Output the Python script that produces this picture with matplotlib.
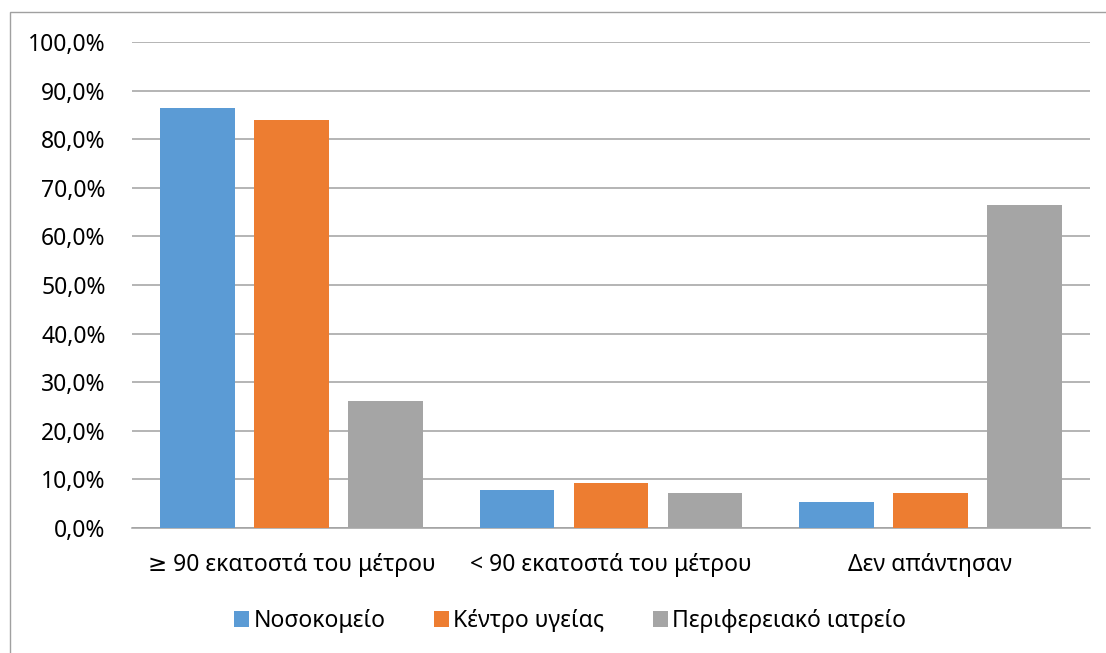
import matplotlib
matplotlib.use("Agg")
import matplotlib.pyplot as plt
from matplotlib.patches import Rectangle
from matplotlib.ticker import FuncFormatter
import numpy as np

plt.rcParams['font.family'] = ['Noto Sans', 'DejaVu Sans']

categories = ["≥ 90 εκατοστά του μέτρου", "< 90 εκατοστά του μέτρου", "Δεν απάντησαν"]
series_names = ["Νοσοκομείο", "Κέντρο υγείας", "Περιφερειακό ιατρείο"]
hospital = [86.4, 7.9, 5.4]
health_centre = [84.0, 9.3, 7.3]
regional_clinic = [26.1, 7.2, 66.4]
colors = ["#5B9BD5", "#ED7D31", "#A5A5A5"]

W, H = 1106, 653
fig = plt.figure(figsize=(W / 100, H / 100), dpi=100)
fig.patch.set_facecolor("white")

# outer chart frame
fig.add_artist(Rectangle((10 / W, -0.1), 1.2, 1 - 12 / H + 0.1,
                         transform=fig.transFigure, fill=False,
                         edgecolor="#A0A0A0", linewidth=1.0))

ax = fig.add_axes([132 / W, 1 - 528 / H, (1090 - 132) / W, (528 - 42) / H])

x = np.arange(len(categories))
width = 0.234
step = 0.294
for i, (vals, name, c) in enumerate(zip([hospital, health_centre, regional_clinic],
                                         series_names, colors)):
    ax.bar(x + (i - 1) * step, np.array(vals) / 100, width, color=c, label=name,
           zorder=3)

ax.set_xlim(-0.5, 2.5)
ax.set_ylim(0, 1.0)
ax.set_yticks(np.arange(0, 1.01, 0.1))
ax.yaxis.set_major_formatter(FuncFormatter(lambda v, p: f"{v*100:.1f}%".replace(".", ",")))
ax.grid(axis="y", color="#A0A0A0", linewidth=1.1, zorder=0)
ax.set_axisbelow(True)
for s in ["top", "right", "left"]:
    ax.spines[s].set_visible(False)
ax.spines["bottom"].set_color("#A0A0A0")
ax.spines["bottom"].set_linewidth(1.1)

ax.set_xticks(x)
ax.set_xticklabels(categories)
ax.tick_params(axis="y", length=0, pad=19, labelsize=16.5, labelcolor="#000000")
ax.tick_params(axis="x", length=0, pad=18, labelsize=16.5, labelcolor="#000000")

fig.legend(loc="center", bbox_to_anchor=(570 / W, 1 - 621 / H), ncol=3,
           frameon=False, fontsize=16.5, handlelength=0.66, handleheight=0.66,
           handletextpad=0.2, columnspacing=2.1)

fig.savefig("out.png", dpi=100, facecolor="white")
